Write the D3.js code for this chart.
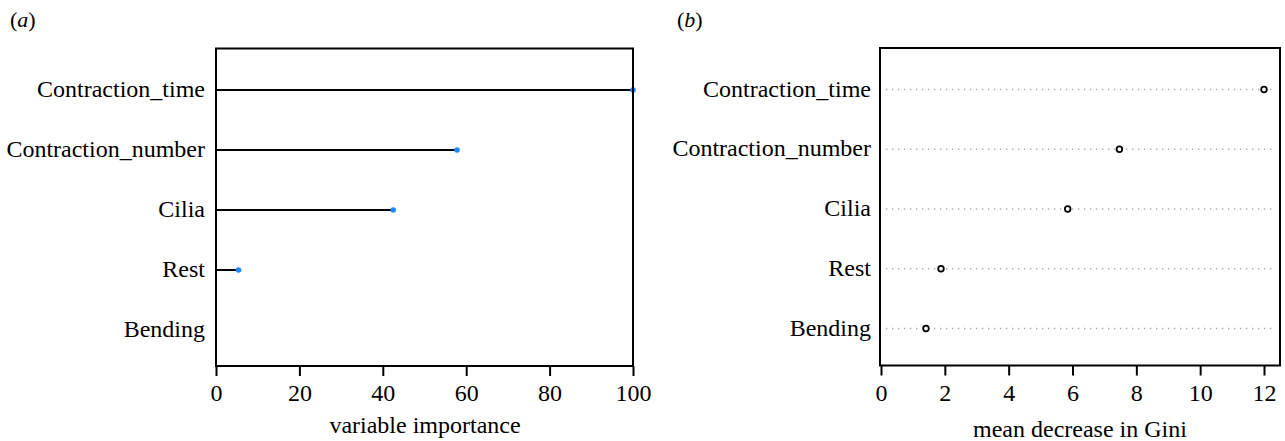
<!DOCTYPE html>
<html>
<head>
<meta charset="utf-8">
<script src="https://cdn.jsdelivr.net/npm/d3@7"></script>
<style>
  body { margin: 0; background: #fff; }
  svg { display: block; }
  text { font-family: "Liberation Serif", "Times New Roman", serif; fill: #000; }
</style>
</head>
<body>
<svg width="1285" height="441"></svg>
<script>
// variables, top to bottom
var variables = ["Contraction_time", "Contraction_number", "Cilia", "Rest", "Bending"];
// (a) variable importance
var importance = [100, 57.8, 42.5, 5.4, 0];
// (b) mean decrease in Gini
var gini = [12.0, 7.47, 5.85, 1.88, 1.41];
var ticksA = [0, 20, 40, 60, 80, 100];
var ticksB = [0, 2, 4, 6, 8, 10, 12];

var svg = d3.select("svg");
var fontSize = 24;

// ---------- panel (a) ----------
var boxA = {left: 216, right: 633, top: 48.5, bottom: 366};

var xA = d3.scaleLinear().domain([0, 100]).range([boxA.left, boxA.right]);
var yA = d3.scalePoint().domain(variables).range([90, 330]);

svg.append("text")
    .attr("x", 10).attr("y", 27)
    .style("font-size", "22px")
    .html("(<tspan font-style='italic'>a</tspan>)");

var gA = svg.append("g");

gA.selectAll(".stem")
    .data(variables)
  .enter().append("line")
    .attr("x1", xA(0))
    .attr("x2", function(d, i) { return xA(importance[i]); })
    .attr("y1", function(d) { return yA(d); })
    .attr("y2", function(d) { return yA(d); })
    .attr("stroke", "#000")
    .attr("stroke-width", 2);

gA.selectAll(".dot")
    .data(variables)
  .enter().append("circle")
    .filter(function(d, i) { return importance[i] > 0; })
    .attr("cx", function(d) { return xA(importance[variables.indexOf(d)]); })
    .attr("cy", function(d) { return yA(d); })
    .attr("r", 2.8)
    .attr("fill", "#1e88ff");

gA.selectAll(".lab")
    .data(variables)
  .enter().append("text")
    .attr("x", 205)
    .attr("y", function(d) { return yA(d) + 7; })
    .attr("text-anchor", "end")
    .style("font-size", fontSize + "px")
    .text(function(d) { return d; });

gA.append("rect")
    .attr("x", boxA.left).attr("y", boxA.top)
    .attr("width", boxA.right - boxA.left)
    .attr("height", boxA.bottom - boxA.top)
    .attr("fill", "none")
    .attr("stroke", "#000")
    .attr("stroke-width", 2);

var axA = gA.append("g")
    .attr("transform", "translate(0," + boxA.bottom + ")")
    .call(d3.axisBottom(xA).tickValues(ticksA).tickSize(10).tickPadding(8).tickSizeOuter(0));
axA.select(".domain").remove();
axA.selectAll(".tick line").attr("stroke", "#000").attr("stroke-width", 2);
axA.selectAll(".tick text")
    .style("font-family", "Liberation Serif, serif")
    .style("font-size", fontSize + "px")
    .attr("fill", "#000");

svg.append("text")
    .attr("x", 425).attr("y", 433)
    .attr("text-anchor", "middle")
    .style("font-size", fontSize + "px")
    .text("variable importance");

// ---------- panel (b) ----------
var boxB = {left: 880, right: 1280, top: 48, bottom: 365.5};

var xB = d3.scaleLinear().domain([0, 12]).range([881, 1264]);
var yB = d3.scalePoint().domain(variables).range([89.5, 328.5]);

svg.append("text")
    .attr("x", 677).attr("y", 27)
    .style("font-size", "22px")
    .html("(<tspan font-style='italic'>b</tspan>)");

var gB = svg.append("g");

gB.selectAll(".grid")
    .data(variables)
  .enter().append("line")
    .attr("x1", boxB.left + 6)
    .attr("x2", boxB.right - 4)
    .attr("y1", function(d) { return yB(d); })
    .attr("y2", function(d) { return yB(d); })
    .attr("stroke", "#aaa")
    .attr("stroke-width", 1.3)
    .attr("stroke-dasharray", "1.3,4.7");

gB.selectAll(".pt")
    .data(variables)
  .enter().append("circle")
    .attr("cx", function(d, i) { return xB(gini[i]); })
    .attr("cy", function(d) { return yB(d); })
    .attr("r", 2.8)
    .attr("fill", "#fff")
    .attr("stroke", "#000")
    .attr("stroke-width", 1.8);

gB.selectAll(".lab")
    .data(variables)
  .enter().append("text")
    .attr("x", 871)
    .attr("y", function(d) { return yB(d) + 7; })
    .attr("text-anchor", "end")
    .style("font-size", fontSize + "px")
    .text(function(d) { return d; });

gB.append("rect")
    .attr("x", boxB.left).attr("y", boxB.top)
    .attr("width", boxB.right - boxB.left)
    .attr("height", boxB.bottom - boxB.top)
    .attr("fill", "none")
    .attr("stroke", "#000")
    .attr("stroke-width", 2);

var axB = gB.append("g")
    .attr("transform", "translate(0," + boxB.bottom + ")")
    .call(d3.axisBottom(xB).tickValues(ticksB).tickSize(10).tickPadding(8).tickSizeOuter(0));
axB.select(".domain").remove();
axB.selectAll(".tick line").attr("stroke", "#000").attr("stroke-width", 2);
axB.selectAll(".tick text")
    .style("font-family", "Liberation Serif, serif")
    .style("font-size", fontSize + "px")
    .attr("fill", "#000");

svg.append("text")
    .attr("x", 1080).attr("y", 437)
    .attr("text-anchor", "middle")
    .style("font-size", fontSize + "px")
    .text("mean decrease in Gini");
</script>
</body>
</html>
